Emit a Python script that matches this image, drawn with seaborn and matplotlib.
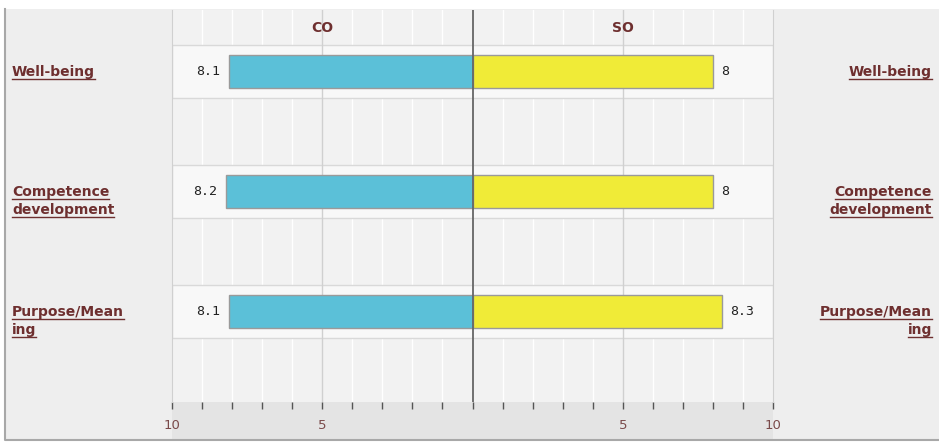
import matplotlib

matplotlib.use("Agg")
import matplotlib.pyplot as plt
import matplotlib.transforms as mtransforms
import pandas as pd
import seaborn as sns
from matplotlib.lines import Line2D
from matplotlib.patches import Rectangle
from matplotlib.ticker import FuncFormatter, MultipleLocator

# chart data
categories = ["Well-being", "Competence development", "Purpose/Meaning"]
label_lines = [["Well-being"], ["Competence", "development"], ["Purpose/Mean", "ing"]]
groups = ["CO", "SO"]
co_values = [8.1, 8.2, 8.1]
so_values = [8, 8, 8.3]

COLORS = {"CO": "#5bc0d8", "SO": "#f0eb37"}
LABEL_COLOR = "#6e2f2f"
W, H = 939, 445

df = pd.DataFrame({
    "category": categories * 2,
    "group": ["CO"] * len(categories) + ["SO"] * len(categories),
    "value": co_values + so_values,
})
# CO grows to the left, SO to the right
df["signed"] = df.apply(lambda r: -r["value"] if r["group"] == "CO" else r["value"], axis=1)

fig = plt.figure(figsize=(W / 100, H / 100), dpi=100, facecolor="white")

# outer panel, its left/bottom border and the tick strip (pixel boxes -> figure fraction)
fig.patches.append(Rectangle((5 / W, 5 / H), 1.0, 431 / H, transform=fig.transFigure,
                             facecolor="#eeeeee", edgecolor="none", zorder=-3))
fig.patches.append(Rectangle((172 / W, 5 / H), 601 / W, 38 / H, transform=fig.transFigure,
                             facecolor="#e4e4e4", edgecolor="none", zorder=-2))
fig.add_artist(Line2D([5 / W, 5 / W, 1.0], [436 / H, 5 / H, 5 / H], transform=fig.transFigure,
                      color="#a8a8a8", lw=1.5, zorder=-1))

ax = fig.add_axes([172 / W, 43 / H, 601 / W, 392 / H])
ax.set_facecolor("#f2f2f2")

sns.barplot(data=df, x="signed", y="category", hue="group", order=categories,
            hue_order=groups, palette=COLORS, saturation=1, dodge=False, orient="h",
            width=0.275, edgecolor="#9a9a9a", linewidth=1, legend=False, ax=ax, zorder=3)

ax.set_xlim(-10, 10)
ax.set_ylim(2.754, -0.5125)
ax.xaxis.set_major_locator(MultipleLocator(1))
ax.xaxis.set_major_formatter(
    FuncFormatter(lambda v, p: f"{abs(v):g}" if v != 0 and v % 5 == 0 else ""))
ax.tick_params(axis="x", direction="out", length=5, width=1, color="#555555",
               labelcolor="#7a4a4a", labelsize=9.5, pad=7)
ax.set_yticks([])
ax.set_xlabel("")
ax.set_ylabel("")
for side in ["top", "bottom"]:
    ax.spines[side].set_visible(False)
for side in ["left", "right"]:
    ax.spines[side].set_color("#d0d0d0")

# grid: white minor lines, gray lines at 5, dark centre line
for x in ax.get_xticks():
    if abs(x) >= 10:
        continue
    if x == 0:
        ax.axvline(x, color="#666666", lw=1.3, zorder=4)
    elif x % 5 == 0:
        ax.axvline(x, color="#d0d0d0", lw=1, zorder=2)
    else:
        ax.axvline(x, color="white", lw=1, zorder=0.5)

# row bands
for i in range(len(categories)):
    ax.axhspan(i - 0.22, i + 0.22, facecolor="#f8f8f8", edgecolor="#d9d9d9", lw=1, zorder=1)

# column headers
for g, xc in zip(groups, [-5, 5]):
    ax.text(xc, -0.3625, g, ha="center", va="center", fontsize=10, fontweight="bold",
            color=LABEL_COLOR)

# value labels
for i, (c, s) in enumerate(zip(co_values, so_values)):
    ax.text(-c - 0.3, i, f"{c:g}", ha="right", va="center", fontsize=9.5,
            family="DejaVu Sans Mono", color="#222222")
    ax.text(s + 0.27, i, f"{s:g}", ha="left", va="center", fontsize=9.5,
            family="DejaVu Sans Mono", color="#222222")

# category labels on both sides
trans = mtransforms.blended_transform_factory(fig.transFigure, ax.transData)
label_texts = []
for i, lines in enumerate(label_lines):
    for k, line in enumerate(lines):
        for xpos, ha in [(12 / W, "left"), (932 / W, "right")]:
            t = fig.text(xpos, i + k * 0.15, line, transform=trans, ha=ha, va="center",
                         fontsize=10, fontweight="bold", color=LABEL_COLOR)
            label_texts.append(t)

# underline the labels
fig.canvas.draw()
renderer = fig.canvas.get_renderer()
inv = fig.transFigure.inverted()
for t in label_texts:
    bb = t.get_window_extent(renderer).transformed(inv)
    y = bb.y0 - 0.5 / H
    fig.add_artist(Line2D([bb.x0, bb.x1], [y, y], transform=fig.transFigure,
                          color=LABEL_COLOR, lw=1))

fig.savefig("out.png", dpi=100)
plt.close(fig)
